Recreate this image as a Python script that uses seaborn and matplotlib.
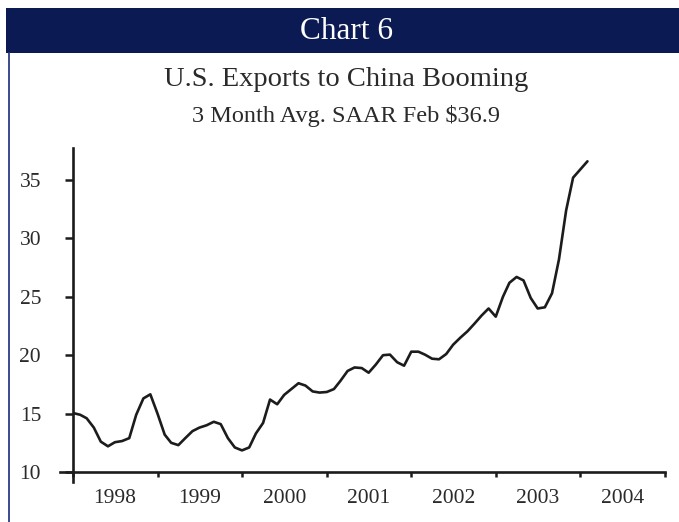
import numpy as np
import pandas as pd
import matplotlib
matplotlib.use("Agg")
import matplotlib.pyplot as plt
import matplotlib.dates as mdates
import seaborn as sns
from matplotlib.patches import Rectangle
from matplotlib.lines import Line2D

# ---------------- data ----------------
start_month = "1998-01-01"
end_month = "2004-02-01"
exports_bn = [
    15.05, 14.9, 14.6, 13.8, 12.6, 12.2, 12.55, 12.65, 12.9, 14.9, 16.3, 16.65,   # 1998
    15.0, 13.2, 12.5, 12.3, 12.9, 13.5, 13.8, 14.0, 14.3, 14.1, 12.9, 12.1,       # 1999
    11.85, 12.1, 13.3, 14.2, 16.2, 15.8, 16.6, 17.1, 17.6, 17.4, 16.9, 16.8,      # 2000
    16.85, 17.1, 17.8, 18.65, 18.95, 18.9, 18.5, 19.2, 20.0, 20.05, 19.4, 19.1,   # 2001
    20.3, 20.3, 20.05, 19.7, 19.65, 20.1, 20.9, 21.5, 22.05, 22.7, 23.4, 24.0,    # 2002
    23.3, 25.0, 26.2, 26.7, 26.4, 24.9, 24.0, 24.1, 25.3, 28.2, 32.4, 35.2,       # 2003
    35.9, 36.6,                                                                   # 2004
]
year_labels = ["1998", "1999", "2000", "2001", "2002", "2003", "2004"]
y_ticks = [10, 15, 20, 25, 30, 35]

header_text = "Chart 6"
title_text = "U.S. Exports to China Booming"
subtitle_text = "3 Month Avg. SAAR Feb $36.9"

months = pd.date_range(start_month, end_month, freq="MS")
df = pd.DataFrame({"month": months, "exports": exports_bn})

# ---------------- style ----------------
sns.set_style("ticks")
plt.rcParams["font.family"] = ["Liberation Serif", "DejaVu Serif"]
NAVY = "#0c1a54"
INK = "#1c1c1c"
TXT = "#2a2a2a"

fig = plt.figure(figsize=(6.79, 5.22), dpi=100)
ax = fig.add_axes([73 / 679, 1 - 472 / 522, (665 - 73) / 679, (472 - 148) / 522])

sns.lineplot(data=df, x="month", y="exports", ax=ax, color=INK, linewidth=1.9)

# axes limits
x0 = pd.Timestamp("1998-01-01")
x1 = pd.Timestamp("2005-01-01")
ax.set_xlim(x0, x1)
ymax = 10 + (472 - 148) / 11.68
ax.set_ylim(10, ymax)

# ticks
ax.set_yticks(y_ticks)
ax.set_yticklabels([str(v) for v in y_ticks])
years = pd.date_range("1998-01-01", "2005-01-01", freq="YS")
ax.set_xticks(years)
ax.set_xticklabels([""] * len(years))
mids = [pd.Timestamp(f"{y}-07-02") for y in year_labels]
ax.set_xticks(mids, minor=True)
ax.set_xticklabels(year_labels, minor=True)

ax.tick_params(axis="y", which="major", length=6, width=1.8, color=INK,
               labelsize=15.5, labelcolor=TXT, pad=17, direction="out")
ax.tick_params(axis="x", which="major", length=3.6, width=1.8, color=INK, direction="out")
ax.tick_params(axis="x", which="minor", length=0, labelsize=15.5, labelcolor=TXT, pad=12)
ax.set_xlabel("")
ax.set_ylabel("")

for s in ["top", "right"]:
    ax.spines[s].set_visible(False)
for s in ["left", "bottom"]:
    ax.spines[s].set_linewidth(1.9)
    ax.spines[s].set_color(INK)
# axis lines cross slightly past each other, as in the original
px_per_unit = 11.68
days_per_px = 365.25 / 84.5
ax.spines["left"].set_bounds(10 - 10 / px_per_unit, ymax)
ax.spines["bottom"].set_bounds(mdates.date2num(x0) - 13 * days_per_px, mdates.date2num(x1))

# ---------------- header / frame ----------------
fig.patches.append(Rectangle((6 / 679, 1 - 53 / 522), 1 - 6 / 679, 45 / 522,
                             transform=fig.transFigure, facecolor=NAVY,
                             edgecolor="none", zorder=0))
fig.lines.append(Line2D([8.5 / 679, 8.5 / 679], [0, 1 - 53 / 522],
                        transform=fig.transFigure, color="#2d3c86", linewidth=1.3))
fig.text(346 / 679, 1 - 31 / 522, header_text, color="white", fontsize=22.5,
         ha="center", va="center")
fig.text(346 / 679, 1 - 80 / 522, title_text, color=TXT, fontsize=20.5,
         ha="center", va="center")
fig.text(346 / 679, 1 - 116 / 522, subtitle_text, color=TXT, fontsize=17.5,
         ha="center", va="center")

fig.savefig("out.png", dpi=100)
